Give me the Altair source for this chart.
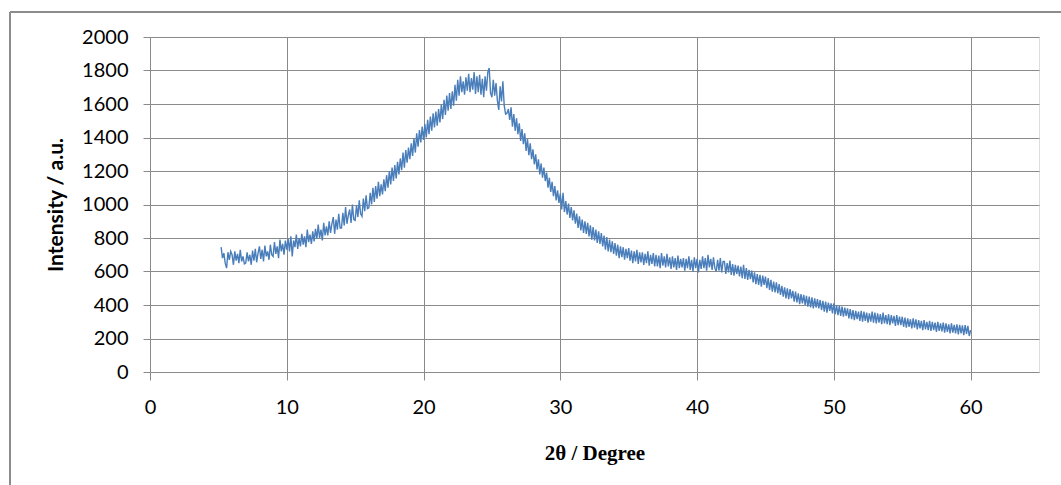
import altair as alt
import pandas as pd

# 2-theta sampling grid: 5.2 .. 60.0 in steps of 0.1 degree
two_theta_start = 5.2
two_theta_step = 0.1

# Intensity (one row per degree)
intensity = (
    [745, 680, 710, 650, 620, 715, 670, 720]                              # 5.2-5.9
    + [700, 640, 720, 665, 705, 650, 730, 660, 690, 645]                  # 6
    + [650, 715, 660, 700, 640, 725, 665, 735, 655, 710]                  # 7
    + [750, 675, 730, 660, 755, 690, 720, 670, 760, 700]                  # 8
    + [690, 775, 705, 750, 680, 790, 720, 765, 700, 785]                  # 9
    + [730, 795, 720, 810, 690, 785, 745, 820, 735, 800]                  # 10
    + [750, 825, 760, 810, 745, 850, 775, 820, 765, 840]                  # 11
    + [780, 855, 795, 880, 800, 850, 785, 890, 815, 870]                  # 12
    + [815, 900, 830, 885, 925, 825, 910, 850, 945, 860]                  # 13
    + [860, 950, 875, 985, 885, 935, 970, 890, 1000, 910]                 # 14
    + [905, 995, 925, 1025, 945, 930, 1035, 960, 1055, 975]               # 15
    + [980, 1070, 1000, 1100, 1015, 1110, 1035, 1135, 1050, 1120]         # 16
    + [1060, 1150, 1080, 1175, 1100, 1200, 1120, 1220, 1140, 1235]        # 17
    + [1155, 1255, 1180, 1275, 1205, 1310, 1220, 1325, 1250, 1340]        # 18
    + [1270, 1365, 1290, 1395, 1310, 1425, 1345, 1445, 1370, 1465]        # 19
    + [1385, 1480, 1400, 1505, 1420, 1525, 1440, 1545, 1460, 1555]        # 20
    + [1470, 1570, 1490, 1595, 1510, 1625, 1535, 1650, 1560, 1665]        # 21
    + [1570, 1675, 1590, 1715, 1620, 1745, 1650, 1765, 1670, 1735]        # 22
    + [1655, 1760, 1680, 1780, 1670, 1755, 1685, 1790, 1660, 1765]        # 23
    + [1670, 1775, 1655, 1750, 1640, 1765, 1680, 1790, 1815, 1665]        # 24
    + [1640, 1745, 1650, 1725, 1620, 1565, 1705, 1615, 1735, 1590]        # 25
    + [1540, 1545, 1570, 1505, 1580, 1465, 1540, 1440, 1515, 1420]        # 26
    + [1485, 1380, 1450, 1360, 1425, 1320, 1390, 1295, 1365, 1270]        # 27
    + [1330, 1240, 1300, 1210, 1270, 1180, 1245, 1160, 1220, 1140]        # 28
    + [1190, 1100, 1160, 1075, 1135, 1050, 1110, 1025, 1085, 1010]        # 29
    + [1065, 970, 1070, 955, 1020, 940, 1005, 920, 985, 905]              # 30
    + [965, 885, 945, 860, 930, 845, 910, 830, 900, 825]                  # 31
    + [890, 810, 875, 790, 865, 785, 850, 770, 840, 765]                  # 32
    + [830, 750, 815, 730, 805, 720, 790, 715, 780, 705]                  # 33
    + [770, 695, 760, 680, 750, 685, 745, 670, 735, 680]                  # 34
    + [740, 665, 725, 650, 720, 660, 730, 645, 715, 655]                  # 35
    + [715, 640, 705, 650, 720, 635, 700, 645, 710, 630]                  # 36
    + [700, 630, 695, 620, 710, 635, 690, 625, 705, 630]                  # 37
    + [685, 615, 690, 625, 680, 610, 695, 620, 675, 625]                  # 38
    + [680, 605, 675, 620, 690, 610, 670, 600, 685, 620]                  # 39
    + [675, 595, 670, 615, 690, 620, 680, 605, 700, 625]                  # 40
    + [675, 610, 685, 620, 600, 670, 605, 680, 595, 660]                  # 41
    + [660, 585, 650, 595, 665, 580, 645, 575, 640, 585]                  # 42
    + [635, 570, 630, 560, 640, 555, 620, 550, 610, 555]                  # 43
    + [605, 535, 595, 525, 585, 520, 580, 510, 575, 520]                  # 44
    + [570, 500, 560, 490, 550, 480, 540, 475, 535, 470]                  # 45
    + [525, 460, 515, 450, 505, 440, 500, 435, 495, 440]                  # 46
    + [485, 420, 480, 415, 470, 405, 465, 410, 460, 400]                  # 47
    + [455, 390, 450, 385, 445, 380, 440, 385, 435, 380]                  # 48
    + [430, 370, 425, 360, 420, 355, 415, 365, 410, 350]                  # 49
    + [410, 345, 400, 340, 395, 335, 390, 330, 385, 335]                  # 50
    + [380, 320, 375, 315, 370, 310, 365, 315, 360, 305]                  # 51
    + [365, 300, 360, 305, 355, 295, 350, 300, 360, 295]                  # 52
    + [355, 290, 350, 295, 345, 285, 355, 290, 340, 285]                  # 53
    + [345, 280, 340, 290, 335, 275, 340, 280, 330, 280]                  # 54
    + [330, 270, 325, 265, 320, 270, 315, 260, 320, 265]                  # 55
    + [315, 255, 310, 260, 305, 250, 310, 255, 300, 250]                  # 56
    + [305, 245, 300, 250, 295, 240, 300, 245, 290, 242]                  # 57
    + [295, 235, 290, 240, 285, 230, 290, 235, 282, 230]                  # 58
    + [285, 225, 282, 230, 278, 220, 280, 228, 275, 215]                  # 59
    + [250]                                                               # 60.0
)

x_ticks = [0, 10, 20, 30, 40, 50, 60]
y_ticks = [0, 200, 400, 600, 800, 1000, 1200, 1400, 1600, 1800, 2000]

two_theta = [round(two_theta_start + two_theta_step * i, 1) for i in range(len(intensity))]
df = pd.DataFrame({"two_theta": two_theta, "intensity": intensity})

W, H = 889, 335
GRID = "#8a8a8a"

line = alt.Chart(df).mark_line(color="#4a7ebb", strokeWidth=1.4).encode(
    x=alt.X(
        "two_theta:Q",
        scale=alt.Scale(domain=[0, 65], nice=False, zero=False),
        axis=alt.Axis(
            values=x_ticks,
            format="d",
            title="2θ / Degree",
            titleFont="Liberation Serif",
            titleFontSize=21,
            titleFontWeight="bold",
            titleColor="#000000",
            titleX=W / 2,
            titleY=81,
            titleBaseline="middle",
            labelFont="Lato",
            labelFontSize=20,
            labelColor="#000000",
            labelPadding=17,
            labelFlush=False,
            tickSize=8,
            tickColor=GRID,
            gridColor=GRID,
            grid=True,
            domain=False,
        ),
    ),
    y=alt.Y(
        "intensity:Q",
        scale=alt.Scale(domain=[0, 2000], nice=False),
        axis=alt.Axis(
            values=y_ticks,
            format="d",
            title="Intensity / a.u.",
            titleFont="Lato",
            titleFontSize=21,
            titleFontWeight="bold",
            titleColor="#000000",
            titleX=-94,
            titleY=H / 2,
            titleBaseline="middle",
            labelFont="Lato",
            labelFontSize=20,
            labelColor="#000000",
            labelPadding=15,
            labelFlush=False,
            tickSize=7,
            tickColor=GRID,
            gridColor=GRID,
            grid=True,
            domain=False,
        ),
    ),
)

frame = pd.DataFrame({"k": [0]})
border_top = alt.Chart(frame).mark_rule(color="#8c8c8c", strokeWidth=2).encode(
    x=alt.value(-140), x2=alt.value(930), y=alt.value(-25)
)
border_left = alt.Chart(frame).mark_rule(color="#8c8c8c", strokeWidth=2).encode(
    x=alt.value(-140), y=alt.value(-25), y2=alt.value(460)
)

chart = (
    alt.layer(line, border_top, border_left)
    .properties(
        width=W,
        height=H,
        autosize=alt.AutoSizeParams(type="none"),
        padding={"left": 150, "top": 37, "right": 22, "bottom": 113},
    )
    .configure_view(stroke=None)
    .configure(background="#ffffff")
)

chart.save("out.html", embed_options={"renderer": "svg", "actions": False})
